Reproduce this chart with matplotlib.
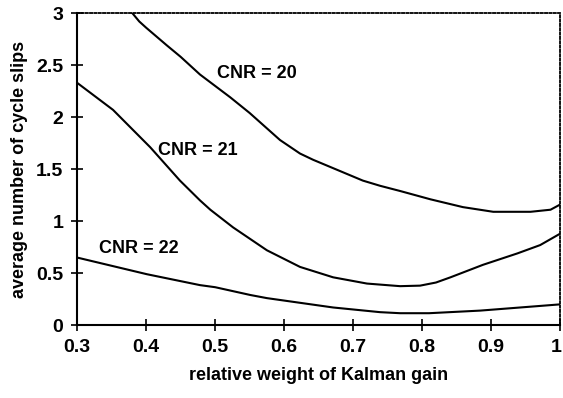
import matplotlib.pyplot as plt
import matplotlib.transforms as mtransforms

plt.rcParams['font.family'] = ['Liberation Sans', 'DejaVu Sans']
plt.rcParams['font.weight'] = 'bold'

# average cycle slips vs. relative weight of the Kalman gain, one curve per CNR
x_cnr20 = [0.380, 0.390, 0.400, 0.430, 0.450, 0.478, 0.500, 0.522, 0.550, 0.594, 0.623, 0.642,
           0.714, 0.739, 0.768, 0.812, 0.859, 0.903, 0.957, 0.986, 1.000]
y_cnr20 = [3.00, 2.92, 2.86, 2.69, 2.58, 2.41, 2.30, 2.19, 2.04, 1.78, 1.65, 1.59,
           1.39, 1.34, 1.29, 1.21, 1.135, 1.09, 1.09, 1.11, 1.16]

x_cnr21 = [0.300, 0.352, 0.406, 0.449, 0.478, 0.493, 0.526, 0.575, 0.623, 0.671, 0.720,
           0.768, 0.797, 0.820, 0.841, 0.888, 0.938, 0.971, 1.000]
y_cnr21 = [2.33, 2.07, 1.71, 1.39, 1.20, 1.11, 0.94, 0.72, 0.56, 0.46, 0.40,
           0.375, 0.38, 0.41, 0.46, 0.58, 0.69, 0.77, 0.88]

x_cnr22 = [0.300, 0.401, 0.478, 0.500, 0.551, 0.575, 0.671, 0.739, 0.768, 0.810,
           0.884, 0.942, 1.000]
y_cnr22 = [0.65, 0.49, 0.385, 0.365, 0.29, 0.26, 0.17, 0.125, 0.115, 0.115,
           0.14, 0.17, 0.20]

curve_labels = ['CNR = 20', 'CNR = 21', 'CNR = 22']
label_x = [0.561, 0.475, 0.39]
label_y = [2.42, 1.68, 0.74]

x_ticks = [0.3, 0.4, 0.5, 0.6, 0.7, 0.8, 0.9, 1.0]
x_tick_labels = ['0.3', '0.4', '0.5', '0.6', '0.7', '0.8', '0.9', '1']
y_ticks = [0, 0.5, 1, 1.5, 2, 2.5, 3]
y_tick_labels = ['0', '0.5', '1', '1.5', '2', '2.5', '3']

fig = plt.figure(figsize=(5.63, 3.98), dpi=100)
ax = fig.add_axes([0.137, 0.183, 0.858, 0.784])

for xs, ys in [(x_cnr20, y_cnr20), (x_cnr21, y_cnr21), (x_cnr22, y_cnr22)]:
    ax.plot(xs, ys, color='black', linewidth=1.5, solid_joinstyle='round')

for txt, tx, ty in zip(curve_labels, label_x, label_y):
    ax.text(tx, ty, txt, ha='center', va='center', fontsize=13, fontweight='bold')

ax.set_xlim(0.3, 1.0)
ax.set_ylim(0, 3)
ax.set_xticks(x_ticks)
ax.set_xticklabels(x_tick_labels)
ax.set_yticks(y_ticks)
ax.set_yticklabels(y_tick_labels)
ax.tick_params(direction='inout', length=8, width=1.2, labelsize=14, pad=6)

# nudge the last x label inward so it stays inside the canvas
last = ax.get_xticklabels()[-1]
last.set_transform(last.get_transform() + mtransforms.ScaledTranslation(-3 / 72, 0, fig.dpi_scale_trans))

for side in ['left', 'bottom']:
    ax.spines[side].set_linewidth(1.5)
for side in ['top', 'right']:
    ax.spines[side].set_linestyle((0, (1.2, 1.2)))
    ax.spines[side].set_linewidth(1.3)

ax.set_xlabel('relative weight of Kalman gain', fontsize=13, fontweight='bold', labelpad=8)
ax.set_ylabel('average number of cycle slips', fontsize=13, fontweight='bold', labelpad=6)

fig.savefig('out.png', dpi=100)
